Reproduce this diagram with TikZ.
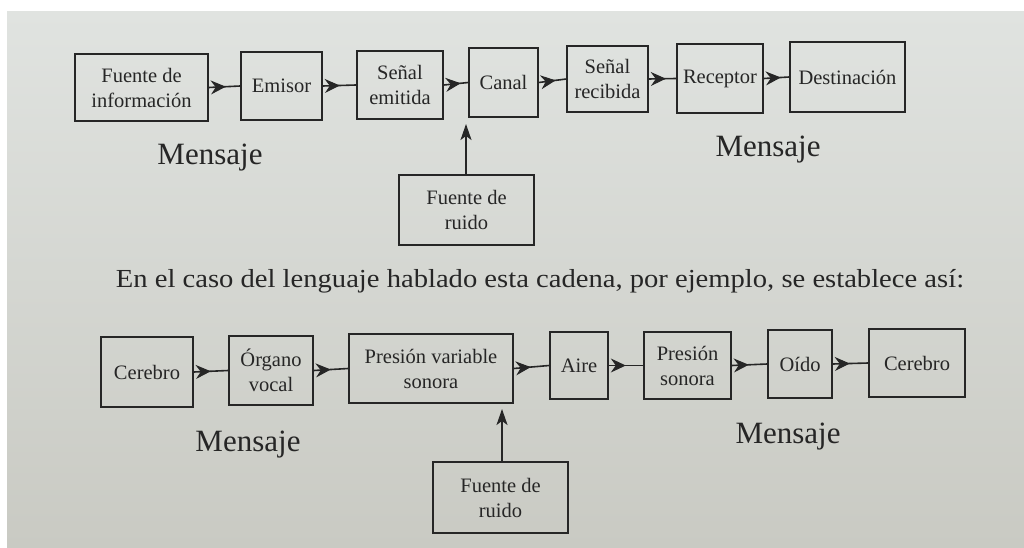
\documentclass[tikz,border=0pt]{standalone}
\usepackage{fontspec}
\usepackage{graphicx}
\setmainfont{Liberation Serif}
\usetikzlibrary{arrows.meta,decorations.markings}
\definecolor{ink}{HTML}{262626}
\definecolor{bgtop}{HTML}{E0E3E0}
\definecolor{bgbot}{HTML}{C9CAC3}
\tikzset{
  box/.style={draw=ink, line width=1.6pt, rectangle, text=ink, align=center,
    inner sep=2pt, font=\fontsize{20.5}{25}\selectfont},
  lbl/.style={text=ink, font=\fontsize{31}{34}\selectfont, inner sep=0pt},
  flow/.style={draw=ink, line width=1.6pt,
    decoration={markings, mark=at position 17pt with {\arrow[line width=1pt]{Stealth[length=15pt,width=14pt,inset=5pt]}}},
    postaction={decorate}},
  noisearrow/.style={draw=ink, line width=1.6pt, -{Stealth[length=16pt,width=11pt,inset=4pt]}}
}
\begin{document}
\begin{tikzpicture}[x=1pt,y=-1pt]
\useasboundingbox (0,0) rectangle (1024,548);
\fill[white] (0,0) rectangle (1024,548);
\shade[top color=bgtop, bottom color=bgbot] (7,12) rectangle (1024,548);
% top row
\node[box, minimum width=133pt, minimum height=67pt] (f1) at (141.5,87.5) {Fuente de\\información};
\node[box, minimum width=81pt, minimum height=68pt] (em) at (281.5,86) {Emisor};
\node[box, minimum width=86pt, minimum height=68pt] (s1) at (400,85) {Señal\\emitida};
\node[box, minimum width=69pt, minimum height=69pt] (can) at (503.5,82.5) {Canal};
\node[box, minimum width=81pt, minimum height=66pt] (s2) at (607.5,79) {Señal\\recibida};
\node[box, minimum width=86pt, minimum height=69pt] (rec) at (720,78.5) {Receptor};
\node[box, minimum width=115pt, minimum height=70pt] (des) at (847.5,77) {Destinación};
\node[box, minimum width=135pt, minimum height=70pt] (n1) at (466.5,210) {Fuente de\\ruido};
\coordinate (n1t) at (466,124);
\draw[flow] (f1.east) -- (em.west);
\draw[flow] (em.east) -- (s1.west);
\draw[flow] (s1.east) -- (can.west);
\draw[flow] (can.east) -- (s2.west);
\draw[flow] (s2.east) -- (rec.west);
\draw[flow] (rec.east) -- (des.west);
\draw[noisearrow] (n1.north -| n1t) -- (n1t);
\node[lbl] (m1) at (210,158) {Mensaje};
\node[lbl] (m2) at (768,150) {Mensaje};
% sentence
\node[text=ink, font=\fontsize{26}{29}\selectfont, inner sep=0pt] (txt) at (540,281)
  {\scalebox{1.1}[1]{En el caso del lenguaje hablado esta cadena, por ejemplo, se establece así:}};
% bottom row
\node[box, minimum width=92pt, minimum height=70pt] (c1) at (147,372) {Cerebro};
\node[box, minimum width=84pt, minimum height=69pt] (org) at (271,370.5) {Órgano\\vocal};
\node[box, minimum width=164pt, minimum height=69pt] (pv) at (431,368.5) {Presión variable\\sonora};
\node[box, minimum width=58pt, minimum height=67pt] (air) at (579,365.5) {Aire};
\node[box, minimum width=87pt, minimum height=67pt] (ps) at (687.5,365.5) {Presión\\sonora};
\node[box, minimum width=64pt, minimum height=68pt] (oid) at (800,364) {Oído};
\node[box, minimum width=96pt, minimum height=68pt] (c2) at (917,363) {Cerebro};
\node[box, minimum width=135pt, minimum height=71pt] (n2) at (500.5,497.5) {Fuente de\\ruido};
\coordinate (n2t) at (502,409);
\draw[flow] (c1.east) -- (org.west);
\draw[flow] (org.east) -- (pv.west);
\draw[flow] (pv.east) -- (air.west);
\draw[flow] (air.east) -- (ps.west);
\draw[flow] (ps.east) -- (oid.west);
\draw[flow] (oid.east) -- (c2.west);
\draw[noisearrow] (n2.north -| n2t) -- (n2t);
\node[lbl] (m3) at (248,445) {Mensaje};
\node[lbl] (m4) at (788,437) {Mensaje};
\end{tikzpicture}
\end{document}
